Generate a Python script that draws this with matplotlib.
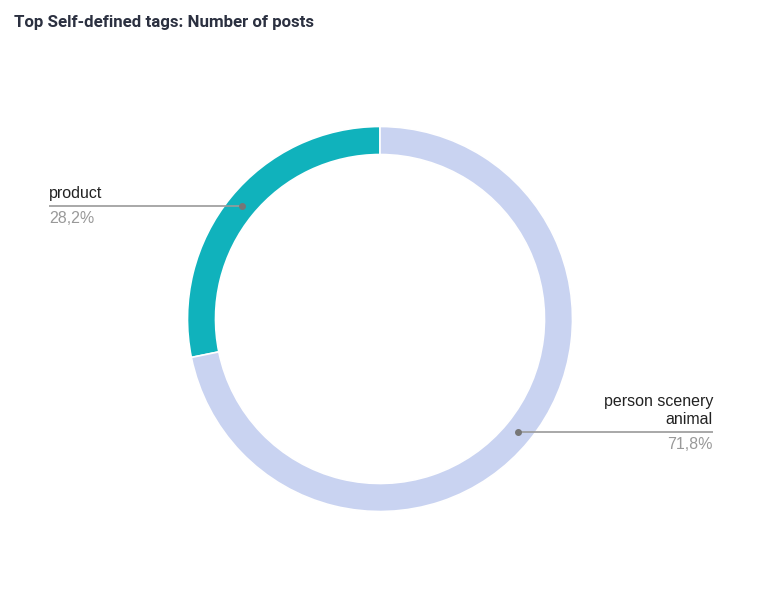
import numpy as np
import matplotlib.pyplot as plt

labels = ['product', 'person scenery\nanimal']
shares = [28.2, 71.8]
colors = ['#10b2bc', '#c9d3f1']
title = 'Top Self-defined tags: Number of posts'

W, H = 765, 601
fig = plt.figure(figsize=(W / 100, H / 100), dpi=100)
ax = fig.add_axes([0, 0, 1, 1])

cx, cy = 380, H - 319
r_out, ring = 192.5, 28
wedges, _ = ax.pie(shares, colors=colors, startangle=90, counterclock=True,
                   center=(cx, cy), radius=r_out, frame=True,
                   wedgeprops=dict(width=ring, edgecolor='white', linewidth=1.2))
ax.set_xlim(0, W)
ax.set_ylim(0, H)
ax.set_aspect('equal')
ax.axis('off')

r_mid = r_out - ring / 2
for w, lab, val in zip(wedges, labels, shares):
    ang = np.deg2rad((w.theta1 + w.theta2) / 2)
    px, py = cx + r_mid * np.cos(ang), cy + r_mid * np.sin(ang)
    pct = f'{val:.1f}%'.replace('.', ',')
    if np.cos(ang) < 0:
        tx, ha = 49, 'left'
    else:
        tx, ha = 713, 'right'
    ax.plot([tx, px], [py, py], color='#9a9a9a', lw=1.2, solid_capstyle='butt')
    ax.plot(px, py, 'o', ms=4, color='#777777')
    ax.text(tx, py + 5, lab, ha=ha, va='bottom', fontsize=11.5,
            family='Liberation Sans', color='#222222', linespacing=1.25)
    ax.text(tx, py - 5, pct, ha=ha, va='top', fontsize=11.5,
            family='Liberation Sans', color='#999999')

fig.text(14 / W, 1 - 22 / H, title, ha='left', va='center', fontsize=12.2,
         fontweight='bold', family='Roboto', color='#2b3040')

fig.savefig('out.png', dpi=100, facecolor='white')
